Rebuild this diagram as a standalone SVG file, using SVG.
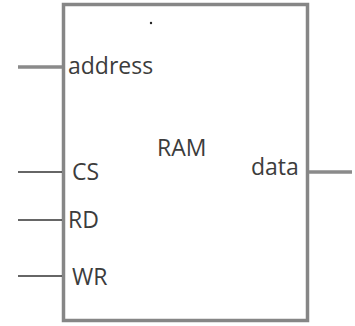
<svg xmlns="http://www.w3.org/2000/svg" width="355" height="326" viewBox="0 0 355 326">
<style>
.lbl{font-family:"Open Sans","Liberation Sans",sans-serif;font-size:23px;fill:#3c3c3c}
.bus{stroke:#8a8a8a;stroke-width:3.5;fill:none}
.sig{stroke:#333;stroke-width:1.5;fill:none}
</style>
<rect width="355" height="326" fill="#fff"/>
<g id="ram">
<rect x="63.5" y="4.5" width="244" height="316" fill="#fff" stroke="#868686" stroke-width="3.5"/>
<circle cx="151" cy="23" r="1.2" fill="#222"/>
<text class="lbl" x="157" y="156">RAM</text>
<text class="lbl" x="68" y="74">address</text>
<text class="lbl" x="72" y="180">CS</text>
<text class="lbl" x="68" y="228">RD</text>
<text class="lbl" x="72" y="285">WR</text>
<text class="lbl" x="251" y="175">data</text>
</g>
<g id="connectors">
<line class="bus" x1="18" y1="67" x2="62" y2="67"/>
<line class="sig" x1="18" y1="172" x2="62" y2="172"/>
<line class="sig" x1="18" y1="220" x2="62" y2="220"/>
<line class="sig" x1="18" y1="276" x2="62" y2="276"/>
<line class="bus" x1="309" y1="172" x2="352" y2="172"/>
</g>
</svg>
